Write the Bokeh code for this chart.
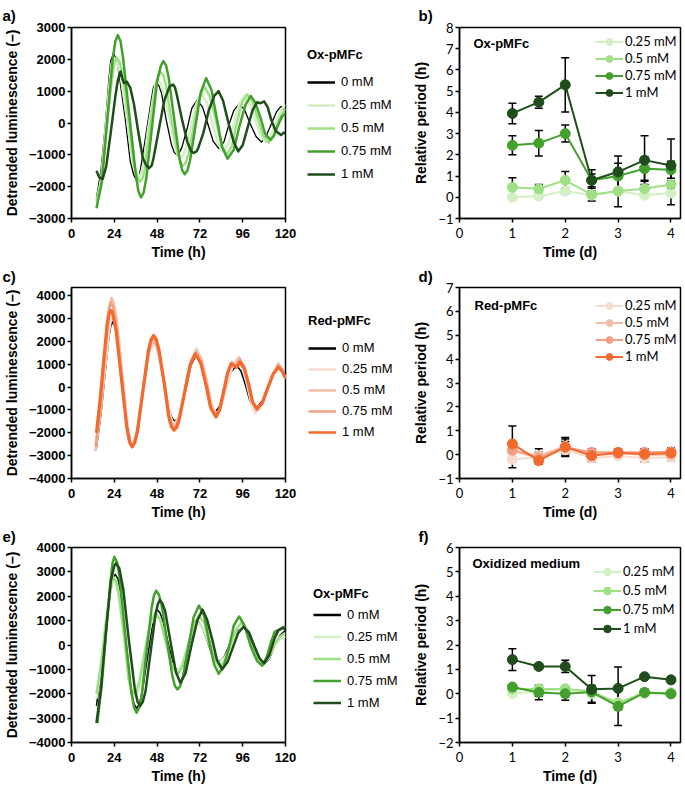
from bokeh.plotting import figure
from bokeh.models import (Range1d, Legend, LegendItem, Label, Whisker, TeeHead,
                          ColumnDataSource, FixedTicker)
from bokeh.layouts import row, column
from bokeh.embed import file_html
from bokeh.resources import INLINE

ARIAL = "Liberation Sans"
CAL = "Lato"

# ---------------- data ----------------
CONC = ["0 mM", "0.25 mM", "0.5 mM", "0.75 mM", "1 mM"]
GREENS = ["#000000", "#d3efc4", "#9fe086", "#43a02c", "#1f4d1b"]
REDS = ["#000000", "#f7dccf", "#f3bea8", "#f19f84", "#f26a2d"]

# panel a: Ox-pMFc detrended luminescence
A_T0 = [14, 16.5, 19, 21, 22, 23.5, 25, 26.5, 30, 33, 35, 36.5, 38, 39, 42, 45, 46, 47.5, 49, 50.5, 53, 56, 57.5, 59, 60.5, 62, 65, 67.5, 70.5, 73.5, 76.5, 79.5, 82.5, 85.5, 88, 91, 94, 97, 100, 103.5, 106.5, 109, 112, 115, 117.5, 120]
A_V0 = [-2350, -1500, -50, 1400, 1950, 2180, 2030, 1600, 190, -1220, -1650, -1800, -1660, -1350, -270, 810, 1145, 1260, 1175, 930, 130, -670, -915, -1000, -935, -750, -140, 470, 720, 500, -40, -580, -800, -595, -100, 395, 600, 425, 0, -425, -600, -435, -40, 355, 520, 350]
A_T1 = [14, 16.5, 19, 21.5, 22.5, 24, 25.5, 27.5, 31, 34, 36, 37.5, 39, 40.5, 43, 46, 47, 48.5, 50, 51.5, 55, 58, 59.5, 61, 62.5, 64, 67, 70, 73, 76, 79, 82, 85, 88, 91, 94, 97, 100, 103, 106, 109, 111.5, 114.5, 117, 119.5, 120]
A_V1 = [-2550, -1850, -250, 1350, 1875, 2050, 1905, 1500, 175, -1150, -1555, -1700, -1585, -1250, -175, 900, 1235, 1350, 1255, 990, 125, -740, -1005, -1100, -1025, -810, -100, 610, 900, 640, 0, -640, -900, -645, -25, 595, 850, 640, 125, -390, -600, -430, -25, 380, 550, 540]
A_T2 = [14, 17, 19.5, 22.5, 24, 25.5, 27, 29, 32, 35, 37, 38.5, 40, 41.5, 44, 47, 48.5, 50, 51.5, 53, 56, 59.5, 61, 62.5, 64, 65.5, 68.5, 71.5, 74.5, 77.5, 81, 84, 87, 90, 92.5, 95.5, 98.5, 101.5, 104.5, 107.5, 110.5, 113, 115.5, 118, 120]
A_V2 = [-2450, -1650, -200, 1300, 1880, 2050, 1900, 1480, 100, -1280, -1700, -1850, -1720, -1345, -125, 1095, 1470, 1600, 1490, 1170, 125, -920, -1240, -1350, -1255, -985, -100, 785, 1150, 835, 75, -685, -1000, -720, -50, 620, 900, 675, 140, -395, -620, -450, -50, 300, 450]
A_T3 = [14, 17, 20, 23, 24.5, 26, 27.5, 29, 32.5, 36, 37.5, 39, 40.5, 42, 45, 48, 50, 51.5, 53, 54.5, 57.5, 60.5, 62, 63.5, 65, 66.5, 69.5, 72.5, 75.5, 78.5, 81.5, 84.5, 87.5, 91, 94, 97.5, 100.5, 103, 106, 108.5, 111.5, 113.5, 116, 118, 120]
A_V3 = [-2680, -1880, 40, 1960, 2550, 2760, 2570, 2010, 210, -1590, -2145, -2340, -2180, -1715, -200, 1315, 1780, 1945, 1815, 1430, 170, -1090, -1475, -1610, -1495, -1170, -100, 970, 1410, 1040, 140, -760, -1125, -840, -140, 560, 850, 650, 160, -330, -530, -400, -50, 200, 300]
A_T4 = [14, 15.5, 17.5, 19.5, 22, 24.5, 26, 27.5, 28.5, 29.5, 31, 33, 35, 37.5, 40, 42, 43.5, 45, 46, 49, 52, 55, 57, 58, 59, 62, 65, 67, 68.5, 70, 71, 74, 77, 80, 82.5, 85, 88, 91, 93.5, 96, 99, 101.5, 104, 106, 108, 110, 112, 114.5, 117.5, 119, 120]
A_V4 = [-1500, -1700, -1760, -1350, -300, 800, 1350, 1620, 1400, 1250, 1300, 1100, 600, -300, -1100, -1340, -1420, -1330, -1100, -200, 700, 1150, 1210, 1120, 900, 100, -600, -880, -940, -900, -800, -300, 400, 850, 1000, 700, 0, -600, -890, -700, -100, 400, 650, 620, 680, 500, 100, -250, -380, -300, -330]

# panel c: Red-pMFc detrended luminescence
C_T0 = [14, 16.5, 19, 21, 22, 23, 24.5, 26, 29, 31.5, 33, 34.5, 36, 37.5, 40, 43, 44.5, 46, 47.5, 49, 52, 55, 56.5, 58, 59.5, 61, 64, 67, 70, 72.5, 75, 78, 80.5, 83.5, 86.5, 89.5, 92.5, 95, 97.5, 100, 102, 104.5, 107, 110, 113, 116.5, 118.5, 120]
C_V0 = [-2650, -1200, 700, 2200, 2650, 2850, 2650, 2150, 250, -1650, -2300, -2500, -2300, -1850, -250, 1300, 1750, 1900, 1750, 1400, 200, -1050, -1380, -1500, -1390, -1100, -150, 950, 1400, 1050, 200, -700, -1100, -800, -100, 650, 950, 700, 100, -600, -880, -850, -600, -50, 550, 900, 750, 400]
C_T1 = [14, 16.5, 19, 21, 22, 23, 24.5, 26, 29, 31.5, 32.5, 34, 35.5, 37, 40, 43, 44.5, 46, 47.5, 49, 52, 55, 56.3, 57.5, 59, 60.5, 63.5, 67, 70, 73, 76, 78.5, 81, 84, 87, 90.5, 93.5, 96, 98.5, 101, 103, 106, 109.5, 113, 116, 118, 120]
C_V1 = [-2300, -900, 900, 2400, 2880, 3100, 2850, 2250, 300, -1650, -2200, -2450, -2250, -1800, -300, 1250, 1700, 1850, 1700, 1350, 150, -1100, -1480, -1600, -1480, -1200, -50, 1150, 1700, 1250, 250, -750, -1200, -850, 50, 950, 1300, 900, 100, -800, -1150, -900, -200, 600, 1050, 800, 350]
C_T2 = [13.5, 16, 18.5, 20.5, 21.5, 22.5, 23.8, 25.5, 28.5, 31, 32.5, 34, 35.5, 37, 40, 43, 44.5, 46, 47.5, 49, 52, 54.5, 56, 57.5, 59, 60.5, 63.5, 67, 70, 73, 76, 78.5, 81, 83.5, 86, 88, 90, 92, 94, 96.5, 99, 101.5, 103.5, 106.5, 110, 113, 116, 118, 120]
C_V2 = [-2800, -1300, 900, 2900, 3550, 3900, 3650, 2900, 500, -1700, -2350, -2600, -2400, -1900, -300, 1350, 1850, 2000, 1850, 1450, 150, -1150, -1550, -1700, -1570, -1300, -150, 1100, 1600, 1200, 200, -800, -1250, -900, -100, 700, 1100, 1000, 1300, 900, 150, -650, -1000, -750, -100, 550, 1000, 800, 400]
C_T3 = [13.5, 16, 18, 20, 21, 22, 23.3, 25, 28, 31, 32.5, 34, 35.5, 37, 40, 43, 44.5, 46, 47.5, 49, 52, 54.5, 56, 57.5, 59, 60.5, 63.5, 66.5, 69.5, 72.5, 75.5, 78, 81, 83, 85, 87.5, 89.5, 92, 94.5, 97, 99.5, 101.5, 104, 107, 110, 113, 116, 118, 120]
C_V3 = [-2600, -1000, 900, 2900, 3450, 3700, 3500, 2650, 400, -1750, -2370, -2600, -2400, -1900, -200, 1450, 1980, 2150, 1990, 1550, 170, -1200, -1650, -1800, -1670, -1350, -200, 1000, 1500, 1100, 100, -900, -1300, -1000, -300, 600, 1000, 900, 1200, 850, 100, -650, -1000, -720, -80, 550, 950, 750, 350]
C_T4 = [14, 16, 18, 20, 21, 22, 23, 25, 28, 31, 32.5, 34, 35.5, 37, 40, 43, 44.5, 46, 47.5, 49, 52, 54.5, 56, 57.5, 59, 60.5, 63.5, 66.5, 69.5, 72.5, 75.5, 78, 81, 83, 85, 87.5, 89.5, 91, 92.5, 94.5, 97, 99.5, 101.5, 104, 107, 110, 113, 116, 118, 120]
C_V4 = [-2000, -600, 1100, 2700, 3150, 3350, 3250, 2475, 365, -1745, -2390, -2620, -2435, -1905, -185, 1535, 2065, 2250, 2090, 1645, 180, -1285, -1730, -1890, -1765, -1400, -220, 960, 1450, 1045, 70, -905, -1310, -1000, -300, 600, 1020, 950, 850, 1090, 790, 70, -650, -950, -700, -50, 550, 870, 700, 400]

# panel e: Ox-pMFc (second set) detrended luminescence
E_T0 = [14, 16.5, 19, 22, 23.3, 24.5, 26, 27.5, 30.5, 33.5, 35, 36.5, 38, 39.5, 42.5, 45.5, 46.8, 48, 49.5, 51, 54, 57, 60, 62.5, 65.5, 68.5, 71, 73.5, 76.5, 79, 82, 85.5, 89.5, 93.5, 97, 99.5, 102.5, 105.5, 108, 111, 114, 117, 120]
E_V0 = [-2500, -1100, 700, 2300, 2700, 2900, 2720, 2200, 150, -1900, -2400, -2600, -2420, -2000, -550, 900, 1330, 1450, 1330, 1050, 150, -800, -1150, -850, -100, 650, 950, 700, 100, -450, -750, -500, 150, 600, 750, 550, 0, -550, -780, -550, 0, 400, 600]
E_T1 = [14, 16.5, 19, 21.5, 22.5, 23.5, 25, 26.5, 29.5, 32.5, 34, 35.5, 37, 38.5, 41.5, 44.5, 47, 50, 53, 56, 59, 62, 65, 68, 71, 74, 77, 80, 82.5, 86, 89.5, 93, 96, 99, 102, 105, 107.5, 110.5, 113.5, 117, 120]
E_V1 = [-2200, -1000, 600, 2000, 2450, 2700, 2500, 2000, 300, -1500, -1950, -2100, -1950, -1600, -400, 850, 1300, 950, 100, -750, -1100, -800, -100, 600, 900, 650, 80, -500, -750, -500, 0, 500, 750, 550, 0, -550, -750, -550, -50, 250, 350]
E_T2 = [14, 16.5, 19, 21.5, 22.5, 23.5, 25, 26.5, 29.5, 32, 33.5, 35, 36.5, 38, 41, 44, 47, 50, 53, 56, 59, 62, 65, 68.5, 71.5, 74.5, 77.5, 80, 83, 86, 89, 92, 95, 98, 101, 104, 107, 110, 113.5, 117, 120]
E_V2 = [-2000, -800, 800, 2100, 2550, 2800, 2600, 2100, 400, -1400, -1850, -2000, -1870, -1500, -300, 850, 1350, 1000, 80, -800, -1200, -900, -100, 850, 1200, 900, 150, -600, -900, -650, 0, 600, 900, 650, 75, -500, -750, -550, 0, 350, 500]
E_T3 = [14.5, 17, 19.5, 22, 23, 24, 25.5, 27, 30, 33.5, 35, 36.5, 38, 39.5, 42, 45, 46.3, 47.5, 49, 50.5, 53.5, 56.5, 58, 59.5, 61, 62.5, 65.5, 68.5, 71.5, 74.5, 77, 80, 82.5, 85.5, 88.5, 91, 94, 97, 100.5, 104, 107, 109.5, 112, 114, 117, 119, 120]
E_V3 = [-3200, -1600, 600, 2700, 3350, 3620, 3400, 2800, 500, -1900, -2550, -2780, -2560, -2000, -300, 1550, 2050, 2230, 2060, 1650, 200, -1250, -1680, -1820, -1680, -1300, -100, 1150, 1620, 1180, 200, -800, -1180, -850, -50, 800, 1170, 800, -50, -650, -850, -500, 150, 550, 650, 750, 700]
E_T4 = [14, 16.5, 19, 22, 24, 25, 26.8, 29, 32, 35.5, 37, 38.5, 40, 41.5, 44, 47, 48.3, 49.5, 51, 52.5, 55.5, 58.5, 61, 64, 67, 70.5, 73.5, 76, 79, 81.5, 84.5, 87.5, 90.5, 93.5, 96.5, 99.5, 102.5, 105.5, 108, 111, 114, 116, 118.5, 120]
E_V4 = [-3200, -1800, 300, 2600, 3250, 3350, 3150, 2300, 300, -1800, -2320, -2500, -2330, -1900, -500, 1200, 1650, 1850, 1700, 1400, 150, -1100, -1550, -1150, -100, 1000, 1450, 1050, 200, -600, -1000, -700, -100, 500, 750, 500, -50, -550, -750, -400, 300, 600, 700, 650]

# relative period panels (time in days)
DAYS = [1, 1.5, 2, 2.5, 3, 3.5, 4]
PER_LABELS = ["0.25 mM", "0.5 mM", "0.75 mM", "1 mM"]

B_025 = [0.0, 0.05, 0.3, 0.1, 0.28, 0.1, 0.2]
B_05 = [0.47, 0.4, 0.8, 0.12, 0.3, 0.4, 0.6]
B_075 = [2.45, 2.55, 3.0, 0.8, 1.0, 1.35, 1.3]
B_1 = [3.95, 4.48, 5.3, 0.8, 1.2, 1.75, 1.5]
B_E025 = [0.05, 0.05, 0.15, 0.05, 0.1, 0.05, 0.55]
B_E05 = [0.45, 0.2, 0.42, 0.3, 0.75, 0.35, 0.15]
B_E075 = [0.45, 0.6, 0.4, 0.3, 0.6, 0.55, 0.4]
B_E1 = [0.48, 0.28, 1.28, 0.5, 0.75, 1.15, 1.25]

D_025 = [-0.2, -0.1, 0.2, -0.15, -0.05, -0.15, -0.1]
D_05 = [0.15, -0.05, 0.35, 0.0, 0.05, 0.0, 0.0]
D_075 = [0.2, -0.15, 0.3, 0.1, 0.1, 0.1, 0.12]
D_1 = [0.45, -0.25, 0.32, -0.05, 0.08, 0.02, 0.07]
D_E025 = [0.35, 0.2, 0.25, 0.15, 0.1, 0.15, 0.15]
D_E05 = [0.3, 0.3, 0.3, 0.2, 0.15, 0.2, 0.2]
D_E075 = [0.3, 0.2, 0.25, 0.15, 0.15, 0.15, 0.15]
D_E1 = [0.75, 0.15, 0.4, 0.2, 0.15, 0.2, 0.2]

F_025 = [0.0, 0.1, 0.2, 0.0, -0.35, 0.0, 0.05]
F_05 = [0.2, 0.2, 0.2, 0.1, -0.4, 0.05, 0.0]
F_075 = [0.28, 0.05, 0.0, 0.07, -0.52, 0.05, 0.0]
F_1 = [1.4, 1.12, 1.12, 0.18, 0.22, 0.7, 0.57]
F_E025 = [0.05, 0.2, 0.1, 0.35, 0.1, 0.1, 0.05]
F_E05 = [0.05, 0.05, 0.05, 0.05, 0.05, 0.05, 0.05]
F_E075 = [0.05, 0.3, 0.27, 0.1, 0.78, 0.15, 0.1]
F_E1 = [0.45, 0.1, 0.25, 0.57, 0.88, 0.05, 0.05]

TS_XTICKS = [0, 24, 48, 72, 96, 120]


# ---------------- helpers ----------------
def base_fig(width, height, mbl, mbr, mbt, mbb, xr, yr, xt, yt, tick_font, tick_bold,
             xlabel, ylabel, x_std, letter, letter_off, letter_std):
    p = figure(width=width, height=height, output_backend="svg", toolbar_location=None,
               x_range=Range1d(*xr), y_range=Range1d(*yr),
               min_border_left=mbl, min_border_right=mbr,
               min_border_top=mbt, min_border_bottom=mbb)
    p.grid.visible = False
    p.outline_line_color = "black"
    p.outline_line_width = 1.5
    p.outline_line_alpha = 1.0
    p.background_fill_color = "white"
    p.border_fill_color = "white"
    p.title.text = letter
    p.title.align = "left"
    p.title.offset = letter_off
    p.title.standoff = letter_std
    p.title.text_font = ARIAL
    p.title.text_font_size = "15px"
    p.title.text_font_style = "bold"
    p.title.text_color = "black"
    p.xaxis.ticker = FixedTicker(ticks=xt)
    p.yaxis.ticker = FixedTicker(ticks=yt)
    for ax in (p.xaxis[0], p.yaxis[0]):
        ax.axis_line_width = 1.5
        ax.axis_line_color = "black"
        ax.major_tick_line_width = 1.5
        ax.major_tick_line_color = "black"
        ax.major_tick_out = 4
        ax.major_tick_in = 0
        ax.minor_tick_out = 0
        ax.minor_tick_in = 0
        ax.major_label_text_font = tick_font
        ax.major_label_text_font_size = "13px"
        ax.major_label_text_font_style = "bold" if tick_bold else "normal"
        ax.major_label_text_color = "black"
        ax.axis_label_text_font = ARIAL
        ax.axis_label_text_font_style = "bold"
        ax.axis_label_text_font_size = "14px"
        ax.axis_label_text_color = "black"
    p.xaxis.axis_label = xlabel
    p.yaxis.axis_label = ylabel
    p.xaxis.major_label_standoff = x_std
    p.yaxis.major_label_standoff = 2
    p.xaxis.axis_label_standoff = 3
    p.yaxis.axis_label_standoff = 6
    return p


def add_text(p, x, y, text):
    p.add_layout(Label(x=x, y=y, x_units="screen", y_units="screen", text=text,
                       text_font=ARIAL, text_font_size="13px", text_font_style="bold",
                       text_baseline="middle", text_align="left", text_color="black"))


def ts_panel(height, mbt, mbb, yr, yt, series, colors, widths, letter, letter_std):
    p = base_fig(297, height, 69, 12, mbt, mbb, (0, 120), yr, TS_XTICKS, yt,
                 ARIAL, True, "Time (h)", "Detrended luminescence (–)", 6,
                 letter, -69, letter_std)
    for (t, v), c, w in zip(series, colors, widths):
        p.line(t, v, line_color=c, line_width=w, line_join="round")
    return p


def legend_fig(height, mbt, mbb, series, colors, title, left, top, gh, title_gap):
    # legend area to the right of a time-series panel; proxies use the series data,
    # which lie outside this figure's (hidden) ranges
    q = figure(width=113, height=height, output_backend="svg", toolbar_location=None,
               x_axis_type=None, y_axis_type=None, x_range=Range1d(0, 1), y_range=Range1d(0, 1),
               min_border_left=0, min_border_right=0, min_border_top=mbt, min_border_bottom=mbb)
    q.outline_line_color = None
    q.grid.visible = False
    q.background_fill_color = "white"
    q.border_fill_color = "white"
    items = []
    for (t, v), c, lab in zip(series, colors, CONC):
        r = q.line(t, v, line_color=c, line_width=2.5)
        items.append(LegendItem(label=lab, renderers=[r]))
    frame_h = height - mbt - mbb
    n = len(items)
    h = 15 + title_gap + n * gh + (n - 1) * 3
    leg = Legend(items=items, location=(left, frame_h - top - h), orientation="vertical",
                 padding=0, margin=0, spacing=3, glyph_height=gh, glyph_width=28,
                 label_height=gh, label_standoff=6, label_text_font=ARIAL,
                 label_text_font_size="13px", label_text_color="black",
                 title=title, title_text_font=ARIAL, title_text_font_size="13px",
                 title_text_font_style="bold", title_text_color="black",
                 title_standoff=title_gap,
                 background_fill_alpha=0, border_line_alpha=0)
    q.add_layout(leg)
    return q


def per_panel(height, mbt, mbb, yr, yt, vals, errs, colors, inner, inner_x, inner_top,
              leg_left, leg_top, leg_gh, letter, letter_std):
    p = base_fig(275, height, 49, 5, mbt, mbb, (0, 4.18), yr, [0, 1, 2, 3, 4], yt,
                 CAL, False, "Time (d)", "Relative period (h)", 5,
                 letter, -41, letter_std)
    frame_h = height - mbt - mbb
    items = []
    for v, c, lab in zip(vals, colors, PER_LABELS):
        lr = p.line(DAYS, v, line_color=c, line_width=2)
        sr = p.scatter(DAYS, v, size=10, marker="circle", fill_color=c, line_color=c)
        items.append(LegendItem(label=lab, renderers=[lr, sr]))
    for v, e in zip(vals, errs):
        src = ColumnDataSource(dict(x=DAYS, lo=[a - b for a, b in zip(v, e)],
                                    hi=[a + b for a, b in zip(v, e)]))
        p.add_layout(Whisker(base="x", lower="lo", upper="hi", source=src,
                             line_color="black", line_width=1.5,
                             upper_head=TeeHead(size=8, line_color="black", line_width=1.5),
                             lower_head=TeeHead(size=8, line_color="black", line_width=1.5)))
    n = len(items)
    h = n * leg_gh
    leg = Legend(items=items, location=(leg_left, frame_h - leg_top - h), orientation="vertical",
                 padding=0, margin=0, spacing=0, glyph_height=leg_gh, glyph_width=28,
                 label_height=leg_gh, label_standoff=2, label_text_font=CAL,
                 label_text_font_size="13px", label_text_color="black",
                 background_fill_color="white", background_fill_alpha=1.0,
                 border_line_alpha=0)
    p.add_layout(leg)
    add_text(p, inner_x, frame_h - inner_top, inner)
    return p


# ---------------- panels ----------------
# row 1: frame 27..222
SA = [(A_T0, A_V0), (A_T1, A_V1), (A_T2, A_V2), (A_T3, A_V3), (A_T4, A_V4)]
pa = ts_panel(262, 27, 40, (-3000, 3000), [-3000, -2000, -1000, 0, 1000, 2000, 3000],
              SA, GREENS, [1.3, 2.5, 2.5, 2.5, 2.5], "a)", 7)
la = legend_fig(262, 27, 40, SA, GREENS, "Ox-pMFc", 10, 23.5, 20, 10)
pb = per_panel(262, 27, 40, (-1, 8), list(range(-1, 9)),
               [B_025, B_05, B_075, B_1], [B_E025, B_E05, B_E075, B_E1], GREENS[1:],
               "Ox-pMFc", 14, 20, 136, 9.7, 17, "b)", 7)

# row 2: frame 287..478
SC = [(C_T0, C_V0), (C_T1, C_V1), (C_T2, C_V2), (C_T3, C_V3), (C_T4, C_V4)]
pc = ts_panel(260, 25, 44, (-4000, 4350), [-4000, -3000, -2000, -1000, 0, 1000, 2000, 3000, 4000],
              SC, REDS, [1.5, 2.5, 2.5, 2.5, 3.2], "c)", 5)
lc = legend_fig(260, 25, 44, SC, REDS, "Red-pMFc", 11, 25.5, 18, 11)
pd = per_panel(260, 25, 44, (-1, 7), list(range(-1, 8)),
               [D_025, D_05, D_075, D_1], [D_E025, D_E05, D_E075, D_E1], REDS[1:],
               "Red-pMFc", 15, 18, 136, 9.7, 17, "d)", 5)

# row 3: frame 547..742
SE = [(E_T0, E_V0), (E_T1, E_V1), (E_T2, E_V2), (E_T3, E_V3), (E_T4, E_V4)]
pe = ts_panel(265, 25, 45, (-4000, 4000), [-4000, -3000, -2000, -1000, 0, 1000, 2000, 3000, 4000],
              SE, GREENS, [1.5, 2.5, 2.5, 2.5, 2.5], "e)", 5)
le = legend_fig(265, 25, 45, SE, GREENS, "Ox-pMFc", 16, 38.5, 19, 4)
pf = per_panel(265, 25, 45, (-2, 6), list(range(-2, 7)),
               [F_025, F_05, F_075, F_1], [F_E025, F_E05, F_E075, F_E1], GREENS[1:],
               "Oxidized medium", 13, 15.5, 134, 14.8, 19, "f)", 5)

layout = column(row(pa, la, pb, spacing=0), row(pc, lc, pd, spacing=0),
                row(pe, le, pf, spacing=0), spacing=0)

open("out.html", "w").write(file_html(layout, INLINE))
